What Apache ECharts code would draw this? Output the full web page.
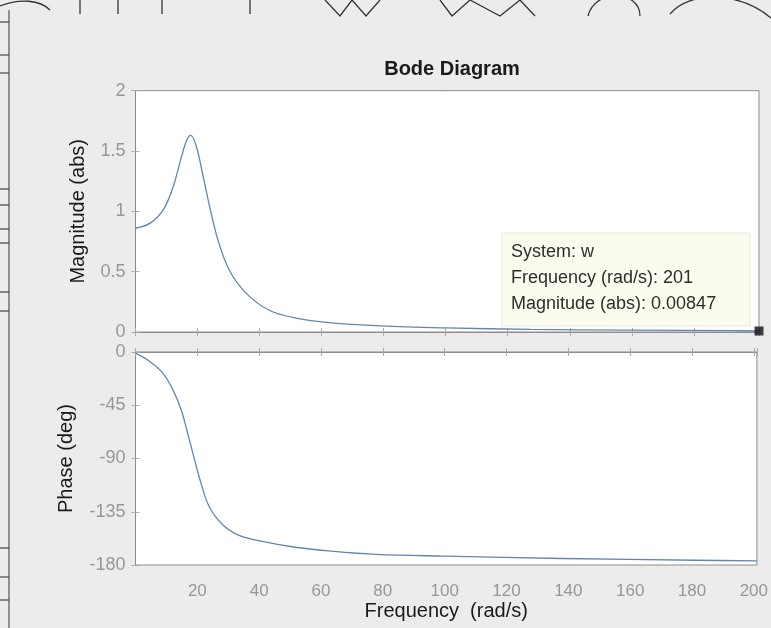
<!DOCTYPE html>
<html>
<head>
<meta charset="utf-8">
<script src="https://cdn.jsdelivr.net/npm/echarts@6/dist/echarts.min.js"></script>
<style>
  html, body { margin: 0; padding: 0; background: #ececec; }
  #chart { width: 771px; height: 628px; }
</style>
</head>
<body>
<div id="chart"></div>
<script>
// Bode diagram (magnitude in abs, phase in deg), linear frequency axis
var freq      = [0, 4.6, 8.9, 12.1, 14.8, 16.5, 17.8, 19.6, 21.8, 23.9, 26.6, 30.3, 35.7, 43.1, 51.7, 62.4, 79, 100, 127.5, 160, 192, 201];
var magnitude = [0.86, 0.90, 1.01, 1.20, 1.45, 1.59, 1.63, 1.54, 1.29, 1.04, 0.76, 0.51, 0.32, 0.18, 0.115, 0.077, 0.05, 0.034, 0.022, 0.015, 0.011, 0.00847];
var phaseFreq = [0, 4.6, 8.9, 12.1, 14.8, 16.9, 19.1, 21.2, 23.9, 28.2, 33.5, 41, 51.7, 62.4, 78, 100, 138, 181, 201];
var phase     = [-1, -8, -18, -32, -49, -69, -91, -111, -131, -146, -155, -160, -165, -168, -171, -172.5, -174.5, -176, -176.5];
var magTicks = [0, 0.5, 1, 1.5, 2];
var phaseTicks = [-180, -135, -90, -45, 0];
var tip = { freq: 201, mag: 0.00847, lines: ['System: w', 'Frequency (rad/s): 201', 'Magnitude (abs): 0.00847'] };

var chart = echarts.init(document.getElementById('chart'), null, { renderer: 'canvas' });

var lineColor = '#6386ad';
var boxColor = '#8c8c8c';
var labelColor = '#979797';
var font = 'Liberation Sans, Arial, sans-serif';

function pairs(xs, ys) {
  return xs.map(function (x, i) { return [x, ys[i]]; });
}

function xAxisBase(grid, showLabels) {
  return {
    type: 'value', gridIndex: grid, min: 0, max: 201, interval: 20,
    axisLine: { show: true, lineStyle: { color: boxColor, width: 1 } },
    axisTick: { show: true, inside: true, length: 4, lineStyle: { color: '#aaa' } },
    splitLine: { show: false },
    axisLabel: {
      show: showLabels, color: labelColor, fontSize: 17, fontFamily: font, margin: 18,
      formatter: function (v) { return (v > 0 && v % 20 === 0) ? String(v) : ''; }
    }
  };
}

// left notebook border lines + handwriting strokes (decor from the photo)
var decor = [
  { type: 'line', shape: { x1: 9, y1: 10, x2: 9, y2: 628 }, style: { stroke: '#555', lineWidth: 1.2 } }
];
[22, 55, 73, 189, 205, 229, 243, 292, 311, 548, 577, 600].forEach(function (y) {
  decor.push({ type: 'line', shape: { x1: 0, y1: y, x2: 9, y2: y }, style: { stroke: '#444', lineWidth: 1.2 } });
});
decor.push({ type: 'bezierCurve', shape: { x1: 0, y1: 6, x2: 50, y2: 10, cpx1: 20, cpy1: -2, cpx2: 40, cpy2: 0 }, style: { stroke: '#333', lineWidth: 1.3, fill: null } });
[80, 118, 162, 250].forEach(function (x) {
  decor.push({ type: 'line', shape: { x1: x, y1: 0, x2: x, y2: 14 }, style: { stroke: '#333', lineWidth: 1.3 } });
});
decor.push({ type: 'polyline', shape: { points: [[325, 0], [340, 16], [352, 0], [366, 16], [380, 0]] }, style: { stroke: '#333', lineWidth: 1.3, fill: null } });
decor.push({ type: 'polyline', shape: { points: [[440, 0], [452, 16], [470, 0], [500, 16], [520, 0], [535, 16]] }, style: { stroke: '#333', lineWidth: 1.3, fill: null } });
decor.push({ type: 'bezierCurve', shape: { x1: 588, y1: 16, x2: 640, y2: 16, cpx1: 595, cpy1: -12, cpx2: 640, cpy2: -10 }, style: { stroke: '#333', lineWidth: 1.3, fill: null } });
decor.push({ type: 'bezierCurve', shape: { x1: 670, y1: 14, x2: 771, y2: 18, cpx1: 690, cpy1: -10, cpx2: 740, cpy2: -8 }, style: { stroke: '#333', lineWidth: 1.3, fill: null } });

// data tip box
decor.push({ type: 'rect', shape: { x: 502, y: 233, width: 248, height: 93 }, style: { fill: '#fbfbee', stroke: '#e8e8dc', lineWidth: 1 }, z: 20 });
tip.lines.forEach(function (t, i) {
  decor.push({ type: 'text', x: 511, y: 243 + i * 26, style: { text: t, fill: '#2e2e2e', fontSize: 18, fontFamily: font }, z: 21 });
});

function yAxisBase(grid, min, max, step) {
  return {
    type: 'value', gridIndex: grid, min: min, max: max, interval: step,
    axisLine: { show: true, lineStyle: { color: boxColor } },
    axisTick: { show: true, inside: true, length: 4, lineStyle: { color: '#aaa' } },
    splitLine: { show: false },
    axisLabel: { color: labelColor, fontSize: 18, fontFamily: font, margin: 10 }
  };
}

var nameStyle = { color: '#1a1a1a', fontSize: 20, fontFamily: font };

chart.setOption({
  animation: false,
  backgroundColor: '#ececec',
  title: {
    text: 'Bode Diagram', left: 447, top: 54, textAlign: 'center',
    textStyle: { fontSize: 20, fontWeight: 'bold', color: '#1a1a1a', fontFamily: font }
  },
  grid: [
    { left: 135.5, right: 12, top: 90.7, height: 241.3, show: true, backgroundColor: '#fff', borderColor: boxColor, borderWidth: 1 },
    { left: 135.5, right: 12, top: 352, height: 213, show: true, backgroundColor: '#fff', borderColor: boxColor, borderWidth: 1 }
  ],
  xAxis: [
    xAxisBase(0, false),
    Object.assign(xAxisBase(1, true), {
      name: 'Frequency  (rad/s)', nameLocation: 'middle', nameGap: 36, nameTextStyle: nameStyle
    }),
    Object.assign(xAxisBase(0, false), { position: 'top' }),
    Object.assign(xAxisBase(1, false), { position: 'top' })
  ],
  yAxis: [
    Object.assign(yAxisBase(0, magTicks[0], magTicks[magTicks.length - 1], 0.5), {
      name: 'Magnitude (abs)', nameLocation: 'middle', nameGap: 47, nameTextStyle: nameStyle
    }),
    Object.assign(yAxisBase(1, phaseTicks[0], phaseTicks[phaseTicks.length - 1], 45), {
      name: 'Phase (deg)', nameLocation: 'middle', nameGap: 59, nameTextStyle: nameStyle
    }),
    Object.assign(yAxisBase(0, 0, 2, 0.5), { position: 'right', axisLabel: { show: false } }),
    Object.assign(yAxisBase(1, -180, 0, 45), { position: 'right', axisLabel: { show: false } })
  ],
  series: [
    {
      type: 'line', xAxisIndex: 0, yAxisIndex: 0, data: pairs(freq, magnitude),
      smooth: 0.35, showSymbol: false, lineStyle: { color: lineColor, width: 1.3 }
    },
    {
      type: 'line', xAxisIndex: 1, yAxisIndex: 1, data: pairs(phaseFreq, phase),
      smooth: 0.35, showSymbol: false, lineStyle: { color: lineColor, width: 1.3 }
    },
    {
      type: 'scatter', xAxisIndex: 0, yAxisIndex: 0, data: [[tip.freq, tip.mag]],
      symbol: 'rect', symbolSize: 9, itemStyle: { color: '#111' }, z: 22
    }
  ],
  graphic: decor
});
</script>
</body>
</html>
